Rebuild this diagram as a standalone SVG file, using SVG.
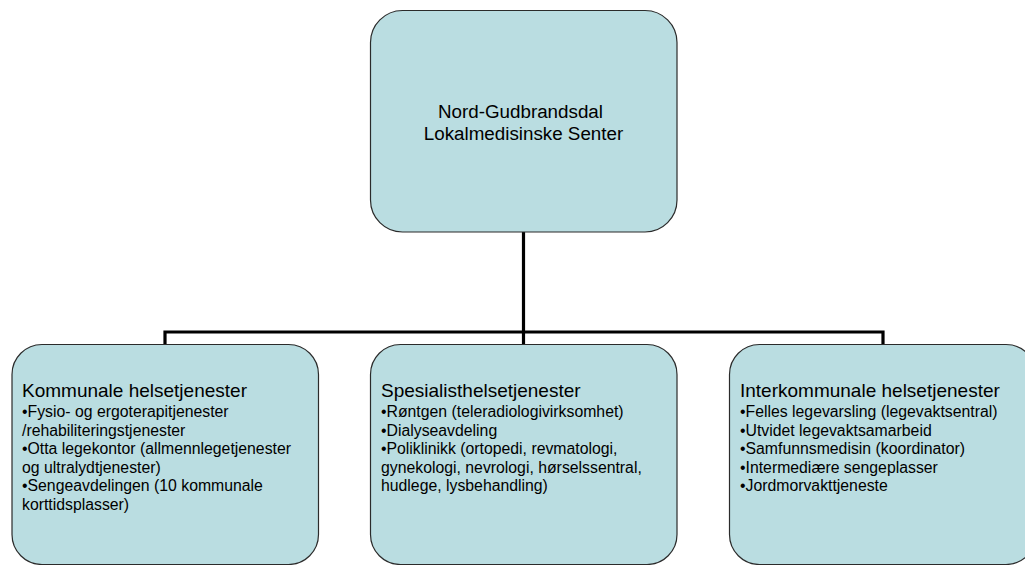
<svg xmlns="http://www.w3.org/2000/svg" width="1025" height="565" viewBox="0 0 1025 565">
<style>
.box{fill:#badde1;stroke:#2b2b2b;stroke-width:1.2}
.t{font-family:"Liberation Sans",Arial,sans-serif;fill:#000}
.h{font-size:19px}
.i{font-size:15.8px}
.m{font-size:18.8px}
.c{fill:none;stroke:#000;stroke-width:3.2}
</style>
<rect width="1025" height="565" fill="#fff"/>
<g id="connectors">
<path class="c" d="M523.5 232 V332"/>
<path class="c" d="M165 345 V332 H883 V345" stroke-linejoin="miter"/>
<path class="c" d="M523.5 332 V345"/>
</g>
<g id="node-top">
<rect class="box" x="370.5" y="10.5" width="306.5" height="221.5" rx="32" ry="32"/>
<text class="t m" text-anchor="middle"><tspan x="520.5" y="118">Nord-Gudbrandsdal</tspan><tspan x="523.5" y="140">Lokalmedisinske Senter</tspan></text>
</g>
<g id="node-kommunale">
<rect class="box" x="12" y="344.5" width="306.5" height="220" rx="30" ry="30"/>
<text class="t"><tspan class="h" x="22" y="397">Kommunale helsetjenester</tspan><tspan class="i" x="22" y="417">•Fysio- og ergoterapitjenester</tspan><tspan class="i" x="22" y="435.5">/rehabiliteringstjenester</tspan><tspan class="i" x="22" y="454">•Otta legekontor (allmennlegetjenester</tspan><tspan class="i" x="22" y="472.5">og ultralydtjenester)</tspan><tspan class="i" x="22" y="491">•Sengeavdelingen (10 kommunale</tspan><tspan class="i" x="22" y="509.5">korttidsplasser)</tspan></text>
</g>
<g id="node-spesialist">
<rect class="box" x="370.5" y="344.5" width="306.5" height="220" rx="30" ry="30"/>
<text class="t"><tspan class="h" x="381" y="397">Spesialisthelsetjenester</tspan><tspan class="i" x="381" y="417">•Røntgen (teleradiologivirksomhet)</tspan><tspan class="i" x="381" y="435.5">•Dialyseavdeling</tspan><tspan class="i" x="381" y="454">•Poliklinikk (ortopedi, revmatologi,</tspan><tspan class="i" x="381" y="472.5">gynekologi, nevrologi, hørselssentral,</tspan><tspan class="i" x="381" y="491">hudlege, lysbehandling)</tspan></text>
</g>
<g id="node-interkommunale">
<rect class="box" x="729.5" y="344.5" width="306.5" height="220" rx="30" ry="30"/>
<text class="t"><tspan class="h" x="740" y="397">Interkommunale helsetjenester</tspan><tspan class="i" x="740" y="417">•Felles legevarsling (legevaktsentral)</tspan><tspan class="i" x="740" y="435.5">•Utvidet legevaktsamarbeid</tspan><tspan class="i" x="740" y="454">•Samfunnsmedisin (koordinator)</tspan><tspan class="i" x="740" y="472.5">•Intermediære sengeplasser</tspan><tspan class="i" x="740" y="491">•Jordmorvakttjeneste</tspan></text>
</g>
</svg>
